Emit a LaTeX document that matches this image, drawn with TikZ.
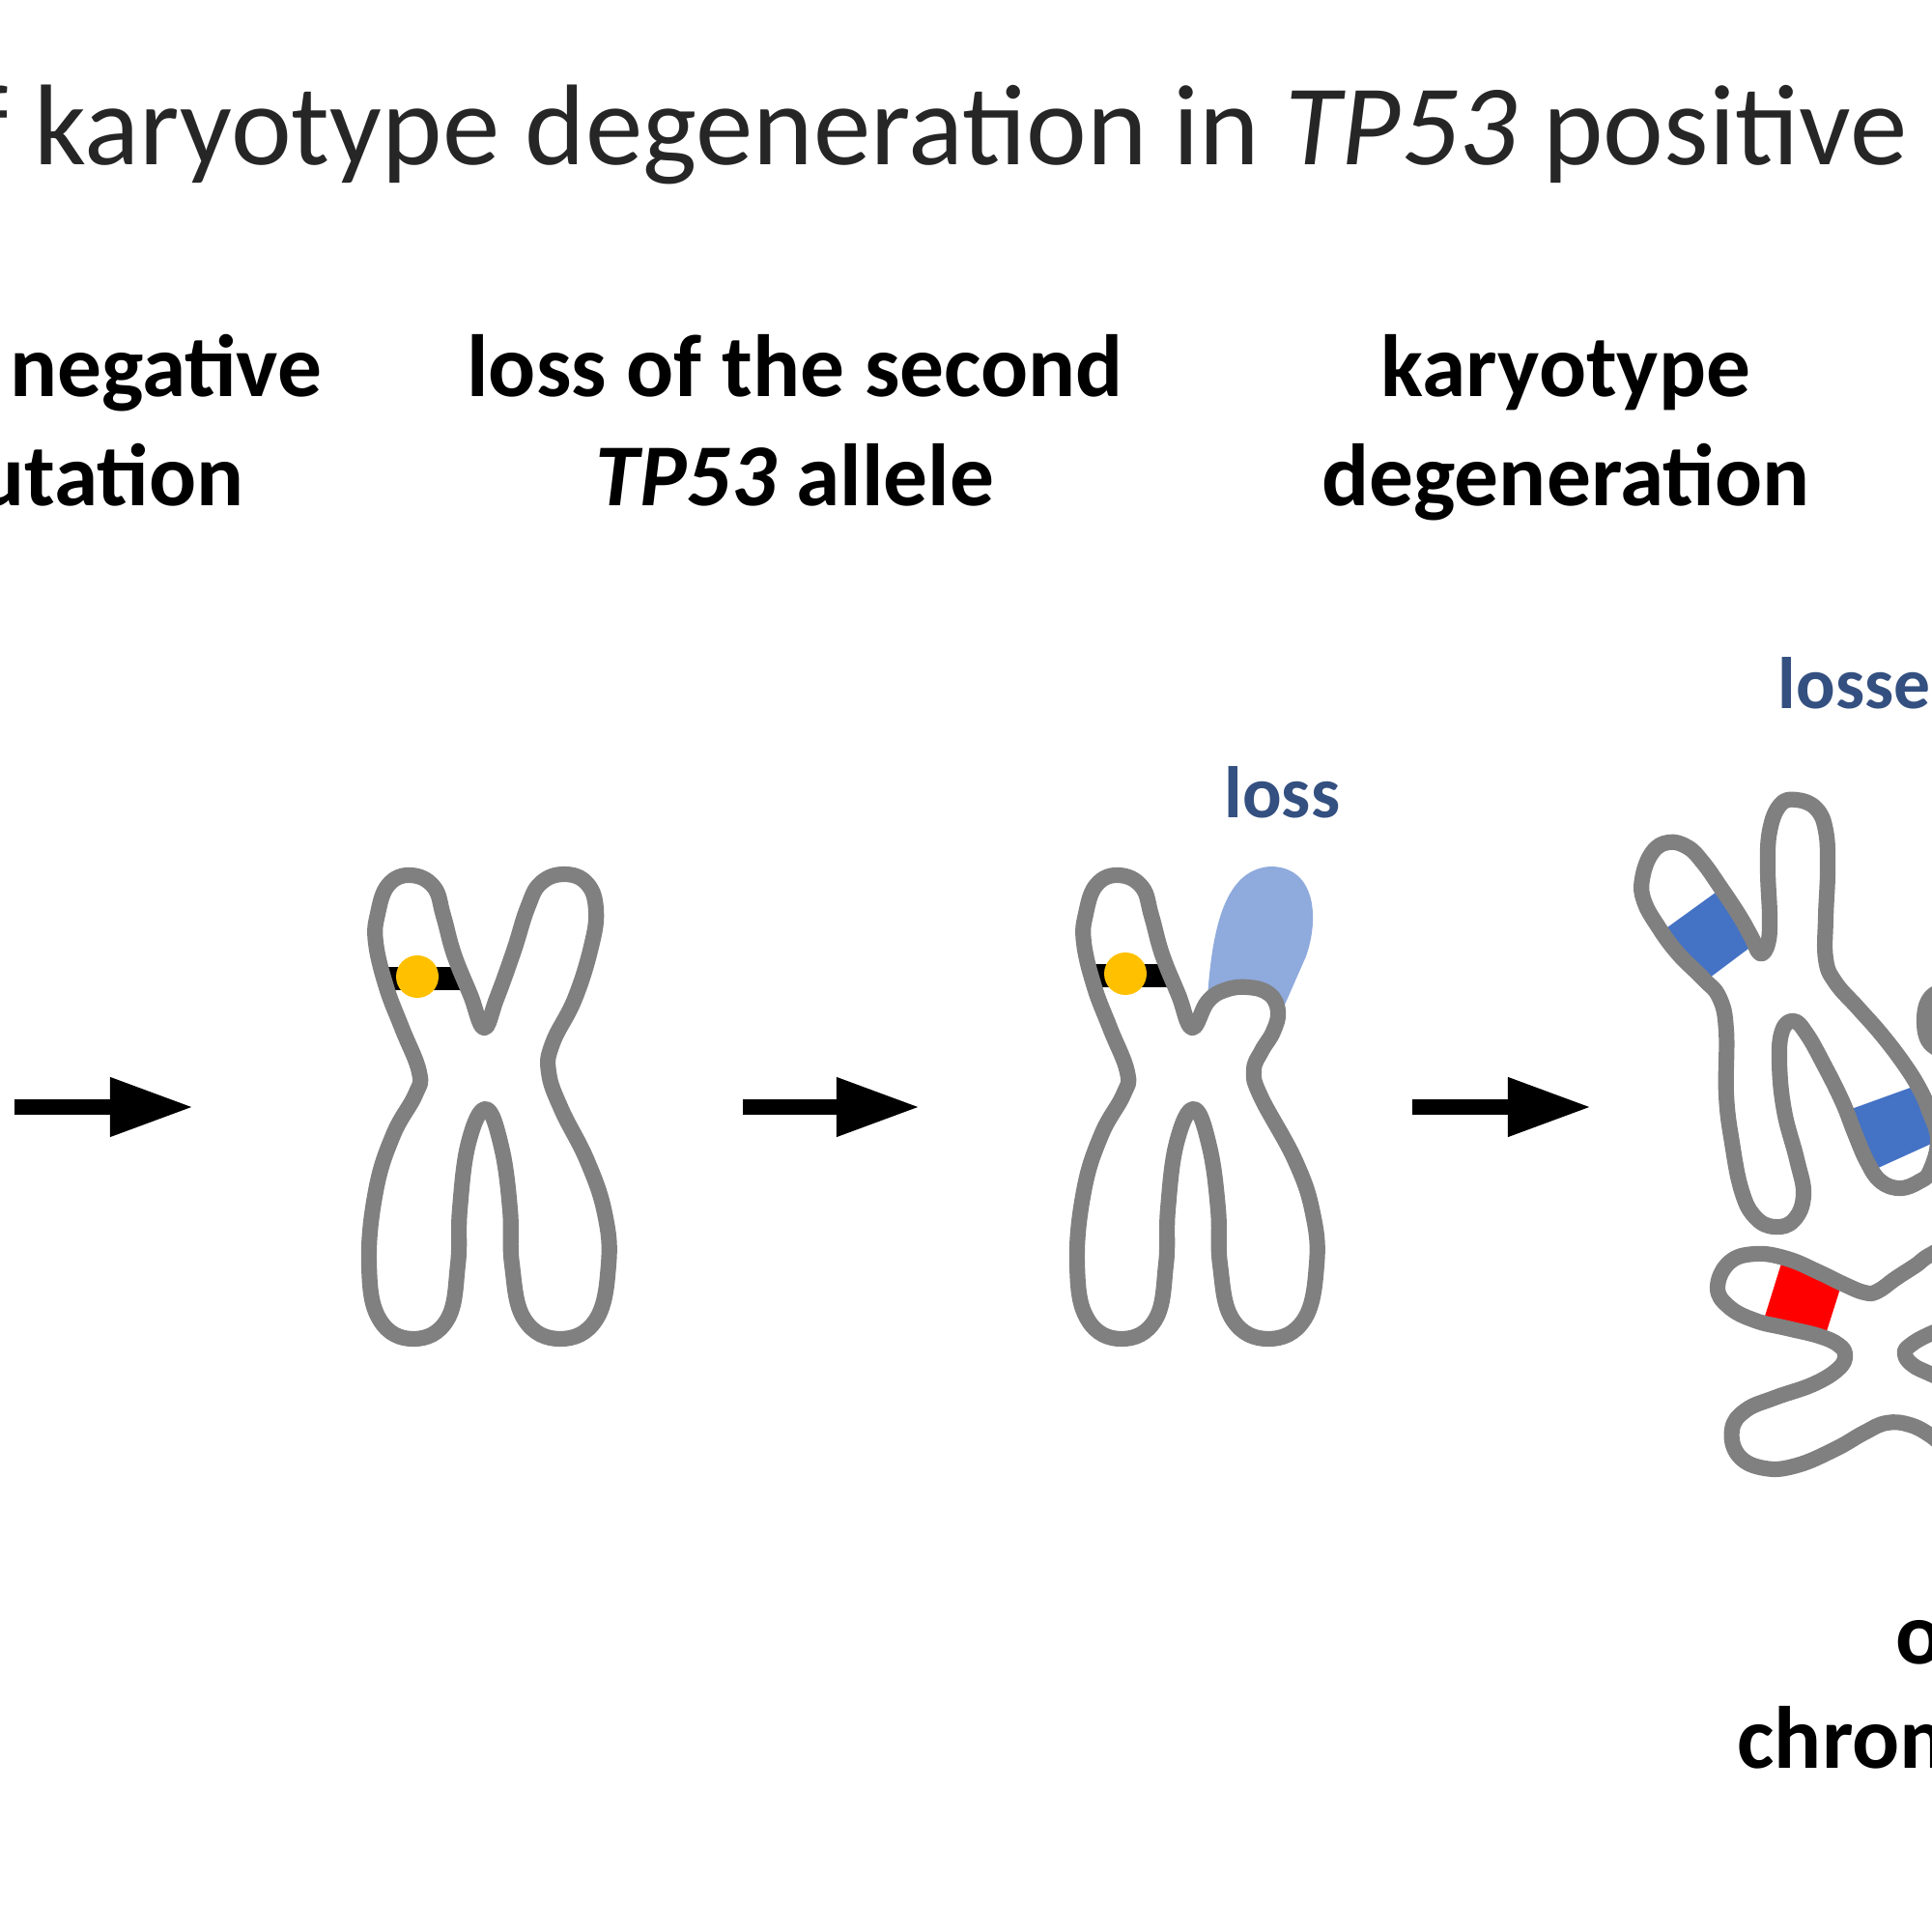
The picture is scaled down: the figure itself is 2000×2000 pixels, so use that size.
\documentclass[tikz,border=0pt]{standalone}
\usepackage{fontspec}
\setmainfont{Carlito}
\usetikzlibrary{arrows.meta}
\definecolor{chromgray}{RGB}{128,128,128}
\definecolor{losscap}{RGB}{143,170,220}
\definecolor{bandblue}{RGB}{68,114,196}
\definecolor{lossblue}{RGB}{52,80,128}
\definecolor{dotyellow}{RGB}{255,192,0}
\definecolor{titlegray}{RGB}{38,38,38}
% outlines of the chromosomes (pixel grid, y down)
\newcommand{\chrOne}{plot[smooth cycle,tension=0.7] coordinates {(391,946) (402,916) (425,906) (449,918) (459,948) (470,988) (487,1030) (501,1064) (514,1034) (532,984) (546,940) (560,914) (585,905) (608,915) (617,942) (612,980) (595,1034) (572,1080) (568,1110) (581,1148) (608,1202) (626,1256) (630,1309) (617,1366) (580,1386) (543,1366) (530,1309) (528,1252) (519,1187) (503,1148) (485,1183) (476,1252) (474,1309) (463,1366) (428,1386) (393,1366) (382,1309) (389,1233) (407,1175) (430,1133) (434,1110) (416,1064) (400,1022) (389,976)}}
\newcommand{\chrTwo}{plot[smooth cycle,tension=0.7] coordinates {(1124,946) (1135,916) (1158,906) (1182,918) (1192,948) (1203,988) (1220,1030) (1234,1064) (1250,1037) (1268,1025) (1292,1022) (1314,1029) (1323,1047) (1318,1068) (1306,1088) (1298,1108) (1305,1135) (1341,1202) (1359,1256) (1363,1309) (1350,1366) (1313,1386) (1276,1366) (1263,1309) (1261,1252) (1252,1187) (1236,1148) (1218,1183) (1209,1252) (1207,1309) (1196,1366) (1161,1386) (1126,1366) (1115,1309) (1122,1233) (1140,1175) (1163,1133) (1167,1110) (1149,1064) (1133,1022) (1122,976)}}
\newcommand{\chrThreeA}{plot[smooth cycle,tension=0.7] coordinates {(1700,910) (1710,883) (1727,872) (1747,877) (1763,893) (1780,917) (1800,947) (1813,970) (1822,987) (1830,977) (1832,950) (1830,900) (1832,860) (1843,833) (1860,828) (1880,837) (1890,860) (1892,900) (1890,950) (1890,993) (1900,1017) (1923,1043) (1947,1070) (1970,1100) (1987,1127) (1997,1150) (2006,1180) (1998,1212) (1987,1223) (1967,1230) (1947,1223) (1933,1203) (1920,1173) (1907,1140) (1887,1100) (1870,1070) (1857,1057) (1845,1067) (1842,1100) (1847,1150) (1860,1200) (1867,1237) (1857,1263) (1837,1270) (1817,1260) (1803,1233) (1793,1183) (1787,1133) (1787,1067) (1780,1033) (1763,1013) (1737,987) (1717,960) (1702,933)}}
\newcommand{\chrThreeB}{plot[smooth cycle,tension=0.7] coordinates {(1778,1333) (1790,1307) (1817,1298) (1850,1303) (1883,1317) (1910,1330) (1930,1338) (1943,1337) (1963,1323) (1983,1310) (2000,1298) (2040,1280) (2070,1310) (2050,1360) (2000,1380) (1977,1393) (1972,1402) (1980,1413) (2000,1423) (2050,1445) (2070,1490) (2030,1510) (2000,1487) (1977,1475) (1953,1473) (1930,1483) (1900,1500) (1860,1517) (1827,1520) (1800,1507) (1793,1480) (1807,1460) (1837,1447) (1877,1433) (1903,1417) (1910,1403) (1903,1392) (1883,1383) (1850,1375) (1817,1367) (1790,1353)}}

\begin{document}
\begin{tikzpicture}[x=0.01cm,y=-0.01cm]
	\tikzstyle{outline} = [draw=chromgray, line width=4.6pt, line join=round]
	\tikzstyle{steparrow} = [line width=4.8pt, -{Triangle[length=24.8pt,width=16.2pt]}]
	\tikzstyle{titletext} = [font=\fontsize{33.8}{40}\selectfont, text=titlegray, inner sep=0pt]
	\tikzstyle{headtext} = [font=\fontsize{26}{32}\selectfont\bfseries, inner sep=0pt, align=center]
	\tikzstyle{losstext} = [font=\fontsize{21.5}{26}\selectfont\bfseries, text=lossblue, inner sep=0pt]
	\useasboundingbox (0,0) rectangle (2000,2000);
	\clip (0,0) rectangle (2000,2000);

	% titles
	\node (title) [titletext, anchor=base east] at (1975,170) {f karyotype degeneration in \textit{TP53} positive};
	\node (hdneg) [headtext, anchor=base east] at (334,410) {negative};
	\node (hdmut) [headtext, anchor=base east] at (253,523) {utation};
	\node (hdloss) [headtext, anchor=base] at (823,523) {loss of the second\\\textit{TP53} allele};
	\node (hdkaryo) [headtext, anchor=base] at (1621,523) {karyotype\\degeneration};

	% bands under the outlines
	\begin{scope}
		\clip \chrOne;
		\fill[black] (395,1001) rectangle (480,1025);
	\end{scope}
	\begin{scope}
		\clip \chrTwo;
		\fill[black] (1128,998) rectangle (1213,1022);
	\end{scope}
	\fill[losscap] (1250,1032) .. controls (1255,960) and (1268,900) .. (1315,897) .. controls (1362,897) and (1366,950) .. (1352,990) -- (1330,1040) .. controls (1310,1025) and (1275,1020) .. cycle;
	\begin{scope}
		\clip \chrThreeA;
		\fill[bandblue] (1715,968) -- (1780,921) -- (1818,976) -- (1758,1021) -- cycle;
		\fill[bandblue] (1900,1154) -- (2030,1107) -- (2030,1170) -- (1920,1220) -- cycle;
	\end{scope}
	\begin{scope}
		\clip \chrThreeB;
		\fill[red] (1848,1295) -- (1910,1318) -- (1884,1400) -- (1820,1385) -- cycle;
	\end{scope}

	% chromosomes
	\draw[outline] \chrOne;
	\draw[outline] \chrTwo;
	\draw[outline] \chrThreeA;
	\draw[outline] \chrThreeB;
	\draw[outline] plot[smooth,tension=0.6] coordinates {(2025,1018) (1999,1032) (1992,1055) (1998,1080) (2025,1095)};
	\fill[dotyellow] (432,1011) circle (22);
	\fill[dotyellow] (1165,1008) circle (22);

	\node (lbloss) [losstext, anchor=base west] at (1267,846) {loss};
	\node (lblosses) [losstext, anchor=base west] at (1840,733) {losse};
	\node (ftone) [headtext, anchor=base west] at (1962,1722) {o};
	\node (fttwo) [headtext, anchor=base west] at (1798,1830) {chrom};

	% arrows
	\coordinate (aonestart) at (15,1146);
	\coordinate (aoneend) at (201,1146);
	\coordinate (atwostart) at (769,1146);
	\coordinate (atwoend) at (953,1146);
	\coordinate (athreestart) at (1462,1146);
	\coordinate (athreeend) at (1648,1146);
	\draw[steparrow] (aonestart) -- (aoneend);
	\draw[steparrow] (atwostart) -- (atwoend);
	\draw[steparrow] (athreestart) -- (athreeend);
\end{tikzpicture}
\end{document}
